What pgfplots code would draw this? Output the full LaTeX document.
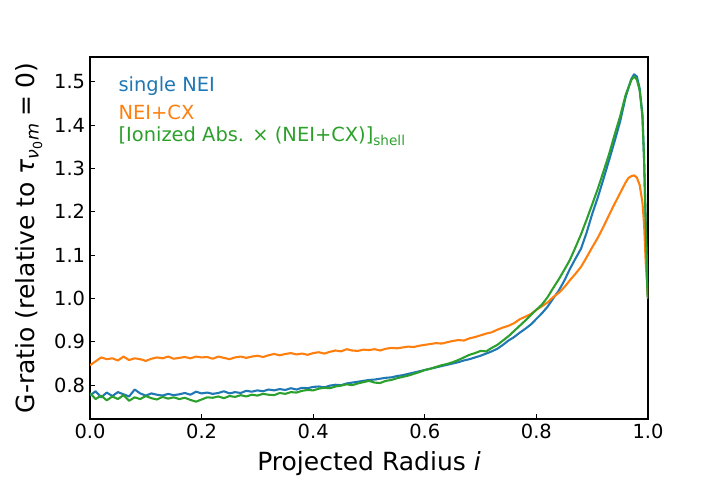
\documentclass[border=0pt]{standalone}
\usepackage{fontspec}
\setmainfont{DejaVu Sans}
\usepackage{amsmath}
\usepackage{pgfplots}
\pgfplotsset{compat=1.18}
\definecolor{tabblue}{HTML}{1F77B4}
\definecolor{taborange}{HTML}{FF7F0E}
\definecolor{tabgreen}{HTML}{2CA02C}

\pgfplotstableread{
x y
0.00 0.776
0.01 0.786
0.02 0.772
0.03 0.783
0.04 0.775
0.05 0.784
0.06 0.779
0.07 0.774
0.08 0.790
0.09 0.781
0.10 0.776
0.11 0.781
0.12 0.778
0.13 0.776
0.14 0.780
0.15 0.777
0.16 0.779
0.17 0.782
0.18 0.778
0.19 0.785
0.20 0.781
0.21 0.783
0.22 0.780
0.23 0.782
0.24 0.786
0.25 0.781
0.26 0.784
0.27 0.782
0.28 0.787
0.29 0.785
0.30 0.788
0.31 0.786
0.32 0.790
0.33 0.788
0.34 0.791
0.35 0.789
0.36 0.793
0.37 0.790
0.38 0.794
0.39 0.793
0.40 0.796
0.41 0.797
0.42 0.795
0.43 0.799
0.44 0.801
0.45 0.800
0.46 0.804
0.47 0.806
0.48 0.808
0.49 0.810
0.50 0.812
0.51 0.813
0.52 0.815
0.53 0.817
0.54 0.818
0.55 0.821
0.56 0.823
0.57 0.826
0.58 0.829
0.59 0.832
0.60 0.835
0.61 0.838
0.62 0.841
0.63 0.844
0.64 0.847
0.65 0.850
0.66 0.853
0.67 0.857
0.68 0.860
0.69 0.864
0.70 0.868
0.71 0.873
0.72 0.878
0.73 0.884
0.74 0.893
0.75 0.903
0.76 0.911
0.77 0.921
0.78 0.930
0.79 0.940
0.80 0.953
0.81 0.966
0.82 0.981
0.83 1.000
0.84 1.018
0.85 1.041
0.86 1.068
0.87 1.092
0.88 1.115
0.89 1.152
0.90 1.195
0.91 1.233
0.92 1.275
0.93 1.318
0.94 1.362
0.95 1.408
0.96 1.465
0.97 1.506
0.975 1.517
0.98 1.512
0.985 1.485
0.99 1.425
0.993 1.320
0.996 1.170
1.00 1.000
}\singlenei

\pgfplotstableread{
x y
0.00 0.846
0.01 0.855
0.02 0.864
0.03 0.860
0.04 0.862
0.05 0.857
0.06 0.866
0.07 0.858
0.08 0.862
0.09 0.860
0.10 0.856
0.11 0.861
0.12 0.864
0.13 0.862
0.14 0.866
0.15 0.861
0.16 0.863
0.17 0.865
0.18 0.862
0.19 0.866
0.20 0.864
0.21 0.865
0.22 0.861
0.23 0.866
0.24 0.863
0.25 0.860
0.26 0.864
0.27 0.866
0.28 0.863
0.29 0.866
0.30 0.868
0.31 0.865
0.32 0.869
0.33 0.872
0.34 0.869
0.35 0.872
0.36 0.874
0.37 0.871
0.38 0.873
0.39 0.870
0.40 0.874
0.41 0.876
0.42 0.873
0.43 0.877
0.44 0.880
0.45 0.878
0.46 0.883
0.47 0.880
0.48 0.879
0.49 0.882
0.50 0.881
0.51 0.883
0.52 0.880
0.53 0.884
0.54 0.886
0.55 0.885
0.56 0.887
0.57 0.889
0.58 0.888
0.59 0.891
0.60 0.893
0.61 0.895
0.62 0.897
0.63 0.896
0.64 0.899
0.65 0.902
0.66 0.904
0.67 0.903
0.68 0.908
0.69 0.911
0.70 0.915
0.71 0.919
0.72 0.922
0.73 0.928
0.74 0.933
0.75 0.937
0.76 0.943
0.77 0.952
0.78 0.958
0.79 0.964
0.80 0.974
0.81 0.982
0.82 0.991
0.83 1.003
0.84 1.013
0.85 1.026
0.86 1.042
0.87 1.057
0.88 1.073
0.89 1.095
0.90 1.118
0.91 1.140
0.92 1.165
0.93 1.192
0.94 1.218
0.95 1.243
0.96 1.268
0.965 1.278
0.97 1.282
0.975 1.284
0.98 1.279
0.985 1.262
0.99 1.222
0.993 1.170
0.996 1.080
1.00 1.000
}\neicx

\pgfplotstableread{
x y
0.00 0.782
0.01 0.768
0.02 0.776
0.03 0.765
0.04 0.774
0.05 0.768
0.06 0.777
0.07 0.764
0.08 0.772
0.09 0.768
0.10 0.775
0.11 0.770
0.12 0.767
0.13 0.773
0.14 0.769
0.15 0.772
0.16 0.768
0.17 0.771
0.18 0.766
0.19 0.762
0.20 0.767
0.21 0.772
0.22 0.771
0.23 0.774
0.24 0.770
0.25 0.775
0.26 0.773
0.27 0.777
0.28 0.774
0.29 0.778
0.30 0.776
0.31 0.780
0.32 0.778
0.33 0.777
0.34 0.782
0.35 0.780
0.36 0.784
0.37 0.783
0.38 0.787
0.39 0.789
0.40 0.788
0.41 0.792
0.42 0.794
0.43 0.793
0.44 0.797
0.45 0.799
0.46 0.802
0.47 0.800
0.48 0.804
0.49 0.807
0.50 0.810
0.51 0.806
0.52 0.805
0.53 0.810
0.54 0.812
0.55 0.816
0.56 0.819
0.57 0.822
0.58 0.826
0.59 0.830
0.60 0.835
0.61 0.838
0.62 0.842
0.63 0.846
0.64 0.849
0.65 0.853
0.66 0.858
0.67 0.864
0.68 0.870
0.69 0.874
0.70 0.879
0.71 0.878
0.72 0.886
0.73 0.893
0.74 0.903
0.75 0.913
0.76 0.925
0.77 0.937
0.78 0.949
0.79 0.962
0.80 0.974
0.81 0.986
0.82 1.003
0.83 1.024
0.84 1.044
0.85 1.066
0.86 1.089
0.87 1.118
0.88 1.148
0.89 1.182
0.90 1.217
0.91 1.253
0.92 1.292
0.93 1.332
0.94 1.377
0.95 1.420
0.96 1.470
0.97 1.504
0.975 1.512
0.98 1.505
0.985 1.480
0.99 1.420
0.993 1.320
0.996 1.166
0.999 1.010
1.00 1.000
}\shell

\begin{document}
\begin{tikzpicture}
\begin{axis}[
  scale only axis,
  width=401.76pt, height=260.64pt,
  at={(0,0)}, anchor=south west,
  xmin=0, xmax=1, ymin=0.722, ymax=1.557,
  xtick={0,0.2,0.4,0.6,0.8,1.0},
  ytick={0.8,0.9,1.0,1.1,1.2,1.3,1.4,1.5},
  tick align=inside,
  xtick pos=bottom, ytick pos=left,
  major tick length=3.5pt,
  tick style={black, line width=0.8pt},
  axis line style={black, line width=1pt},
  /pgf/number format/.cd, fixed, fixed zerofill, precision=1, assume math mode=true,
  /pgfplots/.cd,
  ticklabel style={font=\fontsize{14}{16}\selectfont},
  xlabel={Projected Radius \textit{i}},
  ylabel={G-ratio (relative to $\textit{τ}_{\textit{ν}_{\text{0}}\textit{m}}\mathrel{\text{=}}\text{0}$)},
  label style={font=\fontsize{18}{21}\selectfont},
  xlabel style={at={(axis description cs:0.5,-0.142)}, anchor=base},
  ylabel style={at={(axis description cs:-0.0986,0.5)}, anchor=base},
  every axis plot/.append style={line width=1.5pt, line join=round},
]
\addplot[tabblue, no markers] table {\singlenei};
\addplot[taborange, no markers] table {\neicx};
\addplot[tabgreen, no markers] table {\shell};
\node[anchor=base west, text=tabblue, font=\fontsize{14}{16}\selectfont, inner sep=0pt] at (rel axis cs:0.0507,0.904) {single NEI};
\node[anchor=base west, text=taborange, font=\fontsize{14}{16}\selectfont, inner sep=0pt] at (rel axis cs:0.0507,0.826) {NEI+CX};
\node[anchor=base west, text=tabgreen, font=\fontsize{14}{16}\selectfont, inner sep=0pt] at (rel axis cs:0.0507,0.766) {[Ionized Abs. × (NEI+CX)]\textsubscript{shell}};
\end{axis}
\pgfresetboundingbox
\path[use as bounding box] (-64.8pt,-43.92pt) rectangle (453.6pt,301.68pt);
\end{tikzpicture}
\end{document}
